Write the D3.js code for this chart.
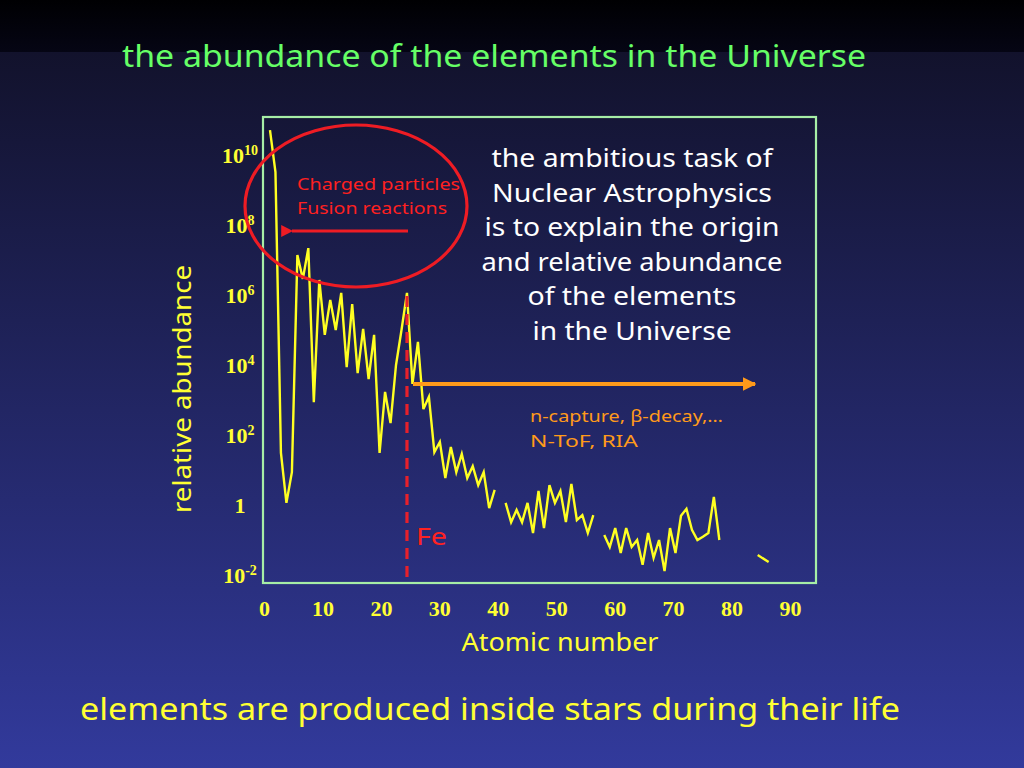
<!DOCTYPE html>
<html>
<head>
<meta charset="utf-8">
<script src="https://cdn.jsdelivr.net/npm/d3@7"></script>
<style>
  html, body { margin: 0; padding: 0; background: #000; }
  svg { display: block; }
  .comic { font-family: "Comic Sans MS", "Noto Sans", sans-serif; }
  .tick-label { font-family: "Liberation Serif", "Times New Roman", serif; font-weight: bold; fill: #ffff33; }
</style>
</head>
<body>
<script>
// solar system abundances, log10 relative to Si = 10^6
const atomicNumber = d3.range(1, 91).concat([92]);
const logAbundance = [
  10.71, 9.51, 1.49, 0.06, 0.94, 7.14, 6.46, 7.34, 2.94, 6.43,
  4.86, 5.86, 5.0, 6.06, 3.94, 5.74, 3.77, 5.03, 3.6, 4.86,
  1.49, 3.23, 2.34, 4.0, 5.0, 6.06, 3.46, 4.66, 2.74, 3.09,
  1.51, 1.8, 0.77, 1.66, 0.94, 1.46, 0.77, 1.11, 0.57, 0.94,
  -0.09, 0.43, null, 0.06, -0.49, -0.14, -0.49, 0.06, -0.8, 0.4,
  -0.66, 0.57, 0.06, 0.4, -0.49, 0.6, -0.43, -0.29, -0.8, -0.29,
  null, -0.86, -1.2, -0.66, -1.37, -0.66, -1.2, -1.0, -1.71, -0.8,
  -1.51, -1.0, -1.89, -0.66, -1.37, -0.31, -0.11, -0.71, -1.0, -0.91,
  -0.8, 0.23, -1.0, null, null, null, null, null, null, -1.43,
  -1.63
];
const xTickLabels = [0, 10, 20, 30, 40, 50, 60, 70, 80, 90];
const yTickPowers = [10, 8, 6, 4, 2, 0, -2];
const feZ = 26;

const W = 1024, H = 768;
const box = { left: 263, right: 816, top: 117, bottom: 583 };

const svg = d3.select("body").append("svg")
  .attr("width", W).attr("height", H)
  .attr("viewBox", `0 0 ${W} ${H}`);

// stretch the fallback font to the slide's Comic Sans widths
const fit = (sel, width) => sel.attr("textLength", width).attr("lengthAdjust", "spacingAndGlyphs");

// background
const defs = svg.append("defs");
const bg = defs.append("linearGradient").attr("id", "bg")
  .attr("x1", 0).attr("y1", 0).attr("x2", 0).attr("y2", 1);
bg.append("stop").attr("offset", 0).attr("stop-color", "#12122c");
bg.append("stop").attr("offset", 1).attr("stop-color", "#323a9c");
const topBand = defs.append("linearGradient").attr("id", "topband")
  .attr("x1", 0).attr("y1", 0).attr("x2", 0).attr("y2", 1);
topBand.append("stop").attr("offset", 0).attr("stop-color", "#000002");
topBand.append("stop").attr("offset", 1).attr("stop-color", "#050514");

svg.append("rect").attr("y", 52).attr("width", W).attr("height", H - 52).attr("fill", "url(#bg)");
svg.append("rect").attr("width", W).attr("height", 52).attr("fill", "url(#topband)");

// scales
const x = d3.scaleLinear().domain([0, 100]).range([264.5, 812.5]);
const y = d3.scaleLinear().domain([-2, 10]).range([575, 155]);
const xLabel = d3.scaleLinear().domain([0, 90]).range([264, 790]);

// plot frame
svg.append("rect")
  .attr("x", box.left).attr("y", box.top)
  .attr("width", box.right - box.left).attr("height", box.bottom - box.top)
  .attr("fill", "none").attr("stroke", "#a6eea6").attr("stroke-width", 2.2);

// data line
const points = atomicNumber.map((z, i) => ({ z, v: logAbundance[i] }));
const line = d3.line()
  .defined(d => d.v != null)
  .x(d => x(d.z))
  .y(d => y(d.v));

svg.append("path")
  .datum(points)
  .attr("d", line)
  .attr("fill", "none")
  .attr("stroke", "#ffff22")
  .attr("stroke-width", 2.4)
  .attr("stroke-linejoin", "miter");

// Fe marker
const fe = points.find(d => d.z === feZ);
svg.append("line")
  .attr("x1", x(feZ)).attr("x2", x(feZ))
  .attr("y1", y(fe.v) + 3).attr("y2", box.bottom)
  .attr("stroke", "#e8202a").attr("stroke-width", 3.2)
  .attr("stroke-dasharray", "11,7");
svg.append("text").attr("class", "comic")
  .attr("x", x(feZ) + 9).attr("y", 545)
  .attr("fill", "#ff2222").attr("font-size", 23)
  .text("Fe").call(fit, 31);

// x tick labels
const xAxis = d3.axisBottom(xLabel).tickValues(xTickLabels).tickSize(0).tickPadding(0);
const gx = svg.append("g").attr("transform", "translate(0,600)").call(xAxis);
gx.select(".domain").remove();
gx.selectAll("text")
  .attr("class", "tick-label")
  .attr("font-size", 22)
  .attr("dy", "0.72em");

// y tick labels with superscripts
const gy = svg.append("g");
yTickPowers.forEach(p => {
  const t = gy.append("text").attr("class", "tick-label")
    .attr("x", 240).attr("y", y(p)).attr("dy", "0.35em")
    .attr("text-anchor", "middle").attr("font-size", 22);
  if (p === 0) {
    t.text("1");
  } else {
    t.append("tspan").text("10");
    t.append("tspan").attr("font-size", 14).attr("dy", "-0.55em").text(p);
  }
});

// axis titles
svg.append("text").attr("class", "comic")
  .attr("x", 560).attr("y", 651)
  .attr("text-anchor", "middle")
  .attr("fill", "#ffff33").attr("font-size", 25)
  .text("Atomic number").call(fit, 197);

svg.append("text").attr("class", "comic")
  .attr("transform", "translate(191,389) rotate(-90)")
  .attr("text-anchor", "middle")
  .attr("fill", "#ffff33").attr("font-size", 25)
  .text("relative abundance").call(fit, 248);

// charged particles annotation
svg.append("ellipse")
  .attr("cx", 356).attr("cy", 206).attr("rx", 111).attr("ry", 81)
  .attr("fill", "none").attr("stroke", "#ee1c24").attr("stroke-width", 3.2);

defs.append("marker").attr("id", "redhead")
  .attr("viewBox", "0 0 10 10").attr("refX", 1).attr("refY", 5)
  .attr("markerWidth", 4).attr("markerHeight", 4).attr("orient", "auto")
  .append("path").attr("d", "M0,5 L10,0 L10,10 Z").attr("fill", "#ee1c24");
svg.append("line")
  .attr("x1", 408).attr("x2", 292).attr("y1", 231).attr("y2", 231)
  .attr("stroke", "#ee1c24").attr("stroke-width", 3)
  .attr("marker-end", "url(#redhead)");

svg.append("text").attr("class", "comic")
  .attr("x", 297).attr("y", 190)
  .attr("fill", "#ff2020").attr("font-size", 17)
  .text("Charged particles").call(fit, 163);
svg.append("text").attr("class", "comic")
  .attr("x", 297).attr("y", 214)
  .attr("fill", "#ff2020").attr("font-size", 17)
  .text("Fusion reactions").call(fit, 150);

// neutron capture annotation
defs.append("marker").attr("id", "orangehead")
  .attr("viewBox", "0 0 10 10").attr("refX", 9).attr("refY", 5)
  .attr("markerWidth", 3.4).attr("markerHeight", 3.4).attr("orient", "auto")
  .append("path").attr("d", "M0,0 L10,5 L0,10 Z").attr("fill", "#ff9a1a");
svg.append("line")
  .attr("x1", 413).attr("x2", 755).attr("y1", 384).attr("y2", 384)
  .attr("stroke", "#ff9a1a").attr("stroke-width", 4)
  .attr("marker-end", "url(#orangehead)");

svg.append("text").attr("class", "comic")
  .attr("x", 530).attr("y", 422)
  .attr("fill", "#ff9a1a").attr("font-size", 16)
  .text("n-capture, \u03b2-decay,\u2026").call(fit, 193);
svg.append("text").attr("class", "comic")
  .attr("x", 530).attr("y", 447)
  .attr("fill", "#ff9a1a").attr("font-size", 16)
  .text("N-ToF, RIA").call(fit, 108);

// white statement
const statement = [
  "the ambitious task of",
  "Nuclear Astrophysics",
  "is to explain the origin",
  "and relative abundance",
  "of the elements",
  "in the Universe"
];
const statementWidths = [281, 280, 295, 301, 209, 199];
svg.append("g").selectAll("text")
  .data(statement)
  .join("text")
  .attr("class", "comic")
  .attr("x", 632)
  .attr("y", (d, i) => 167 + i * 34.5)
  .attr("text-anchor", "middle")
  .attr("fill", "#ffffff").attr("font-size", 25)
  .attr("textLength", (d, i) => statementWidths[i])
  .attr("lengthAdjust", "spacingAndGlyphs")
  .text(d => d);

// title and footer
svg.append("text").attr("class", "comic")
  .attr("x", 494).attr("y", 67)
  .attr("text-anchor", "middle")
  .attr("fill", "#66ff66").attr("font-size", 30)
  .text("the abundance of the elements in the Universe").call(fit, 744);

svg.append("text").attr("class", "comic")
  .attr("x", 490).attr("y", 720)
  .attr("text-anchor", "middle")
  .attr("fill", "#ffff33").attr("font-size", 30)
  .text("elements are produced inside stars during their life").call(fit, 820);
</script>
</body>
</html>
